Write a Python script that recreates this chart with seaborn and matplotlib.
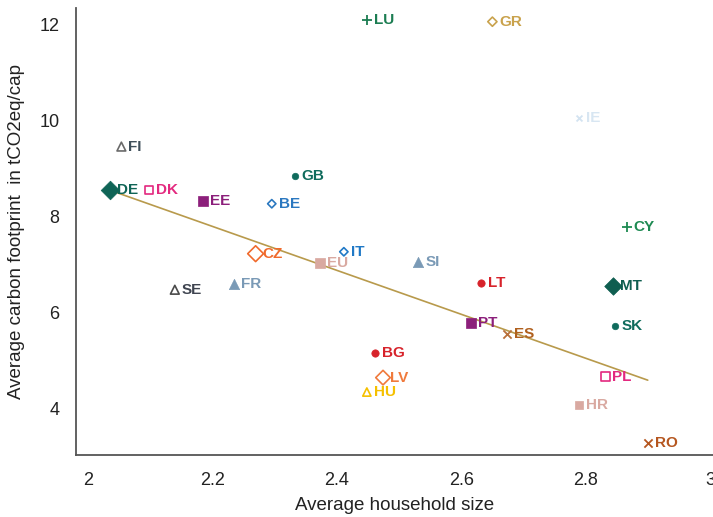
import numpy as np
import pandas as pd
import matplotlib
matplotlib.use("Agg")
import matplotlib.pyplot as plt
import seaborn as sns

countries = ["LU", "GR", "IE", "FI", "GB", "DE", "DK", "EE", "BE", "CZ", "IT", "EU",
             "SI", "CY", "LT", "MT", "SE", "FR", "PT", "ES", "SK", "BG", "LV", "HU",
             "PL", "HR", "RO"]
household_size = [2.448, 2.650, 2.789, 2.053, 2.332, 2.034, 2.098, 2.184, 2.295, 2.269,
                  2.411, 2.373, 2.531, 2.866, 2.632, 2.844, 2.139, 2.235, 2.615, 2.673,
                  2.847, 2.461, 2.474, 2.448, 2.832, 2.790, 2.900]
carbon_footprint = [12.10, 12.06, 10.06, 9.46, 8.85, 8.56, 8.56, 8.33, 8.27, 7.23,
                    7.27, 7.04, 7.06, 7.79, 6.62, 6.56, 6.48, 6.60, 5.79, 5.56,
                    5.73, 5.17, 4.65, 4.35, 4.67, 4.08, 3.29]
# linear trend of footprint on household size: slope, intercept
trend_slope = -4.57
trend_intercept = 17.85
x_ticks = [2, 2.2, 2.4, 2.6, 2.8, 3]
x_tick_labels = ["2", "2.2", "2.4", "2.6", "2.8", "3"]
y_ticks = [4, 6, 8, 10, 12]

# marker style per country: (marker, colour, filled, size)
styles = {
    "LU": ("+", "#1c7d52", True, 55),
    "GR": ("D", "#c9a24c", False, 22),
    "IE": ("x", "#d3e3f1", True, 18),
    "FI": ("^", "#6a6a6a", False, 40),
    "GB": ("o", "#0f6b5c", True, 22),
    "DE": ("D", "#0f6456", True, 90),
    "DK": ("s", "#e3297f", False, 35),
    "EE": ("s", "#8c1f7b", True, 45),
    "BE": ("D", "#2b78c0", False, 18),
    "CZ": ("D", "#f06a2c", False, 65),
    "IT": ("D", "#2079c6", False, 18),
    "EU": ("s", "#d9a9a1", True, 45),
    "SI": ("^", "#7a9ab6", True, 55),
    "CY": ("+", "#1e8a52", True, 55),
    "LT": ("o", "#d7232b", True, 28),
    "MT": ("D", "#0f5e50", True, 80),
    "SE": ("^", "#4a4a4a", False, 40),
    "FR": ("^", "#7a9ab6", True, 55),
    "PT": ("s", "#8c1f7b", True, 55),
    "ES": ("x", "#b8703a", True, 35),
    "SK": ("o", "#0f6b5c", True, 22),
    "BG": ("o", "#d7232b", True, 28),
    "LV": ("D", "#f07a3c", False, 55),
    "HU": ("^", "#f5c000", False, 35),
    "PL": ("s", "#e3297f", False, 45),
    "HR": ("s", "#d9a9a1", True, 40),
    "RO": ("x", "#b5561f", True, 35),
}
label_colours = {"FI": "#3f4f5a", "SE": "#3f4450", "ES": "#b0601e", "IE": "#d8e6f2"}

df = pd.DataFrame({"country": countries, "size": household_size,
                   "footprint": carbon_footprint})

sns.set_style("white")
plt.rcParams["font.family"] = ["Liberation Sans", "DejaVu Sans"]

fig = plt.figure(figsize=(7.13, 5.17), dpi=100)
ax = fig.add_axes([0.1066, 0.12, 0.8934, 0.865])

# trend line spanning the range of household sizes
trend = pd.DataFrame({"size": [df["size"].min(), df["size"].max()]})
trend["footprint"] = trend_intercept + trend_slope * trend["size"]
sns.lineplot(data=trend, x="size", y="footprint", color="#b89a4c",
             linewidth=1.2, ax=ax, zorder=2)

for _, row in df.iterrows():
    marker, colour, filled, s = styles[row["country"]]
    if marker in ("+", "x"):
        kw = dict(color=colour, linewidth=1.3)
    elif filled:
        kw = dict(color=colour, edgecolor=colour, linewidth=0.5)
    else:
        kw = dict(facecolor="none", edgecolor=colour, linewidth=1.2)
    sns.scatterplot(x=[row["size"]], y=[row["footprint"]], marker=marker, s=s,
                    ax=ax, legend=False, zorder=3, **kw)
    ax.annotate(row["country"], (row["size"], row["footprint"]),
                xytext=(5, 0), textcoords="offset points", va="center",
                ha="left", fontsize=11, fontweight="bold",
                color=label_colours.get(row["country"], colour), zorder=4)

ax.set_xlim(1.98, 3.005)
ax.set_ylim(3.04, 12.35)
ax.set_xticks(x_ticks)
ax.set_xticklabels(x_tick_labels)
ax.set_yticks(y_ticks)
ax.tick_params(axis="both", length=0, labelsize=13, colors="#222222", pad=12)
ax.set_xlabel("Average household size", fontsize=13.5, color="#222222", labelpad=6)
ax.set_ylabel("Average carbon footprint  in tCO2eq/cap", fontsize=13.5,
              color="#222222", labelpad=10)
for side in ("top", "right"):
    ax.spines[side].set_visible(False)
for side in ("left", "bottom"):
    ax.spines[side].set_color("#555555")
    ax.spines[side].set_linewidth(1.3)

fig.savefig("out.png", dpi=100)
